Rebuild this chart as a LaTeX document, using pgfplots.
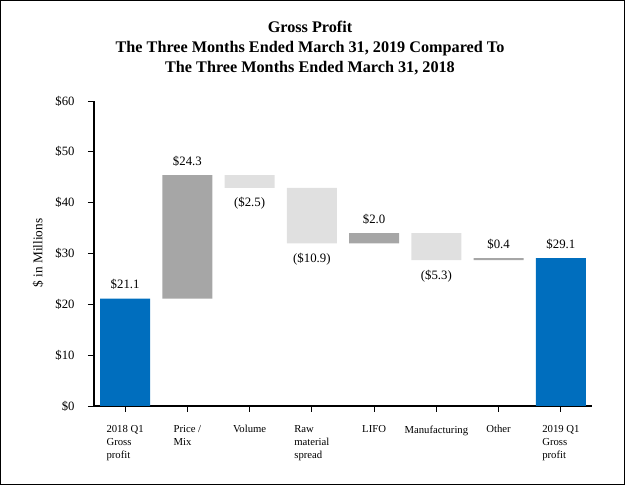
\documentclass[border=0pt]{standalone}
\usepackage{fontspec}
\setmainfont{Liberation Serif}
\usepackage{pgfplots}
\pgfplotsset{compat=1.18}
\definecolor{cblue}{RGB}{0,110,190}
\definecolor{cdark}{RGB}{166,166,166}
\definecolor{clight}{RGB}{224,224,224}
\pgfplotsset{common/.style={
  at={(0pt,0pt)}, anchor=south west,
  scale only axis, width=498pt, height=305pt,
  xmin=-0.5, xmax=7.5, ymin=0, ymax=60}}
\begin{document}
\begin{tikzpicture}
\useasboundingbox (-94pt,-80pt) rectangle (532pt,406pt);
\draw[line width=1.3pt] (-93.2pt,-78.5pt) rectangle (530.2pt,405.3pt);
\begin{axis}[
  common,
  ybar stacked, bar width=0.8,
  axis x line=bottom, axis y line=left,
  axis line style={-, black},
  x axis line style={line width=1.3pt},
  y axis line style={line width=1.7pt},
  tick align=outside, major tick length=6pt,
  tick style={black, line width=0.8pt},
  xtick={0,...,7},
  xticklabels={{2018 Q1\\Gross\\profit},{Price /\\Mix},Volume,{Raw\\material\\spread},LIFO,Manufacturing,Other,{2019 Q1\\Gross\\profit}},
  xticklabel style={align=left, anchor=north, font=\fontsize{10.7}{13}\selectfont, yshift=-10pt},
  ytick={0,10,...,60},
  yticklabels={\$0,\$10,\$20,\$30,\$40,\$50,\$60},
  yticklabel style={font=\fontsize{12.7}{14}\selectfont, xshift=-10pt},
]
\addplot[draw=none, fill=none]
  coordinates {(0,0) (1,21.1) (2,42.9) (3,32.0) (4,32.0) (5,28.7) (6,28.7) (7,0)};
\addplot[draw=none, fill=cblue]
  coordinates {(0,21.1) (1,0) (2,0) (3,0) (4,0) (5,0) (6,0) (7,29.1)};
\addplot[draw=none, fill=cdark]
  coordinates {(0,0) (1,24.3) (2,0) (3,0) (4,2.0) (5,0) (6,0.4) (7,0)};
\addplot[draw=none, fill=clight]
  coordinates {(0,0) (1,0) (2,2.5) (3,10.9) (4,0) (5,5.3) (6,0) (7,0)};
\end{axis}
\begin{axis}[
  common, hide axis, clip=false,
  nodes near coords, point meta=explicit symbolic,
  every node near coord/.append style={font=\fontsize{12.8}{14}\selectfont, text=black, inner sep=0pt},
]
\addplot[only marks, mark=none,
  every node near coord/.append style={anchor=base, yshift=10pt}]
  coordinates {(0,21.1)[\$21.1] (1,45.4)[\$24.3] (4,34.0)[\$2.0] (6,29.1)[\$0.4] (7,29.1)[\$29.1]};
\addplot[only marks, mark=none,
  every node near coord/.append style={anchor=base, yshift=-19pt}]
  coordinates {(2,42.9)[(\$2.5)] (3,32.0)[(\$10.9)] (5,28.7)[(\$5.3)]};
\end{axis}
\node[rotate=90, font=\fontsize{13.3}{15}\selectfont] at (-56pt,153pt) {\$ in Millions};
\node[align=center, font=\bfseries\fontsize{16.2}{19.6}\selectfont] at (216pt,358pt)
  {Gross Profit\\The Three Months Ended March 31, 2019 Compared To\\The Three Months Ended March 31, 2018};
\end{tikzpicture}
\end{document}
